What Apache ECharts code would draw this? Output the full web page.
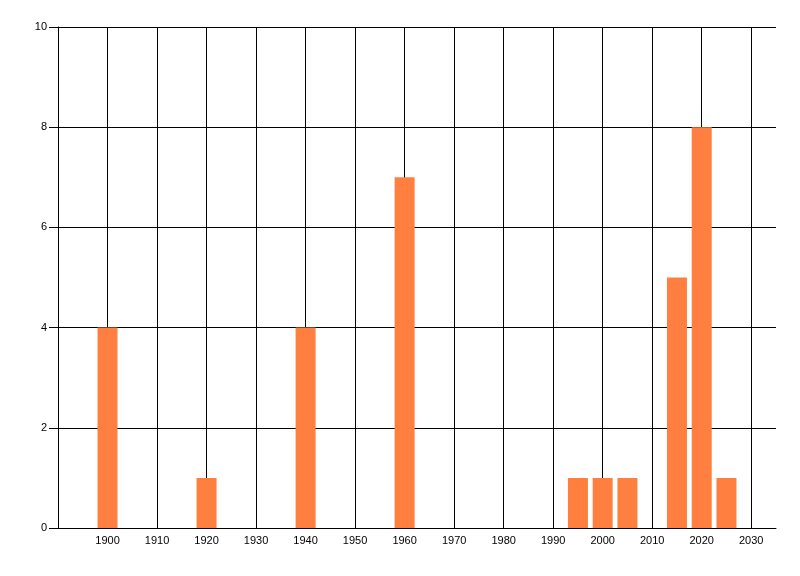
<!DOCTYPE html>
<html>
<head>
<meta charset="utf-8">
<script src="https://cdn.jsdelivr.net/npm/echarts@6/dist/echarts.min.js"></script>
<style>
html, body { margin: 0; padding: 0; background: #fff; }
#chart { width: 800px; height: 576px; }
</style>
</head>
<body>
<div id="chart"></div>
<script>
let years = [1900, 1920, 1940, 1960, 1995, 2000, 2005, 2015, 2020, 2025];
let counts = [4, 1, 4, 7, 1, 1, 1, 5, 8, 1];

let myChart = echarts.init(document.getElementById('chart'));

let axisFont = { fontFamily: 'Liberation Sans', fontSize: 11, color: '#000' };

option = {
    animation: false,
    grid: {
        left: 58,
        right: 24,
        top: 27,
        bottom: 48
    },
    xAxis: {
        type: 'value',
        min: 1890,
        max: 2035,
        interval: 10,
        axisLine: { show: true, lineStyle: { color: '#000', width: 1 } },
        axisTick: { show: false },
        axisLabel: Object.assign({
            margin: 7,
            showMaxLabel: false,
            formatter: function (v) {
                if (v === 1890 || v % 10 !== 0) return '';
                return String(v);
            }
        }, axisFont),
        splitLine: {
            show: true,
            showMinLine: false,
            showMaxLine: false,
            lineStyle: { color: '#000', width: 1 }
        }
    },
    yAxis: {
        type: 'value',
        min: 0,
        max: 10,
        interval: 2,
        axisLine: { show: true, lineStyle: { color: '#000', width: 1 } },
        axisTick: { show: true, length: 9, lineStyle: { color: '#000' } },
        axisLabel: Object.assign({ margin: 11 }, axisFont),
        splitLine: { show: true, lineStyle: { color: '#000', width: 1 } }
    },
    series: [{
        type: 'bar',
        barWidth: 20,
        itemStyle: { color: '#ff7f40' },
        data: years.map(function (y, i) { return [y, counts[i]]; })
    }]
};

myChart.setOption(option);
</script>
</body>
</html>
